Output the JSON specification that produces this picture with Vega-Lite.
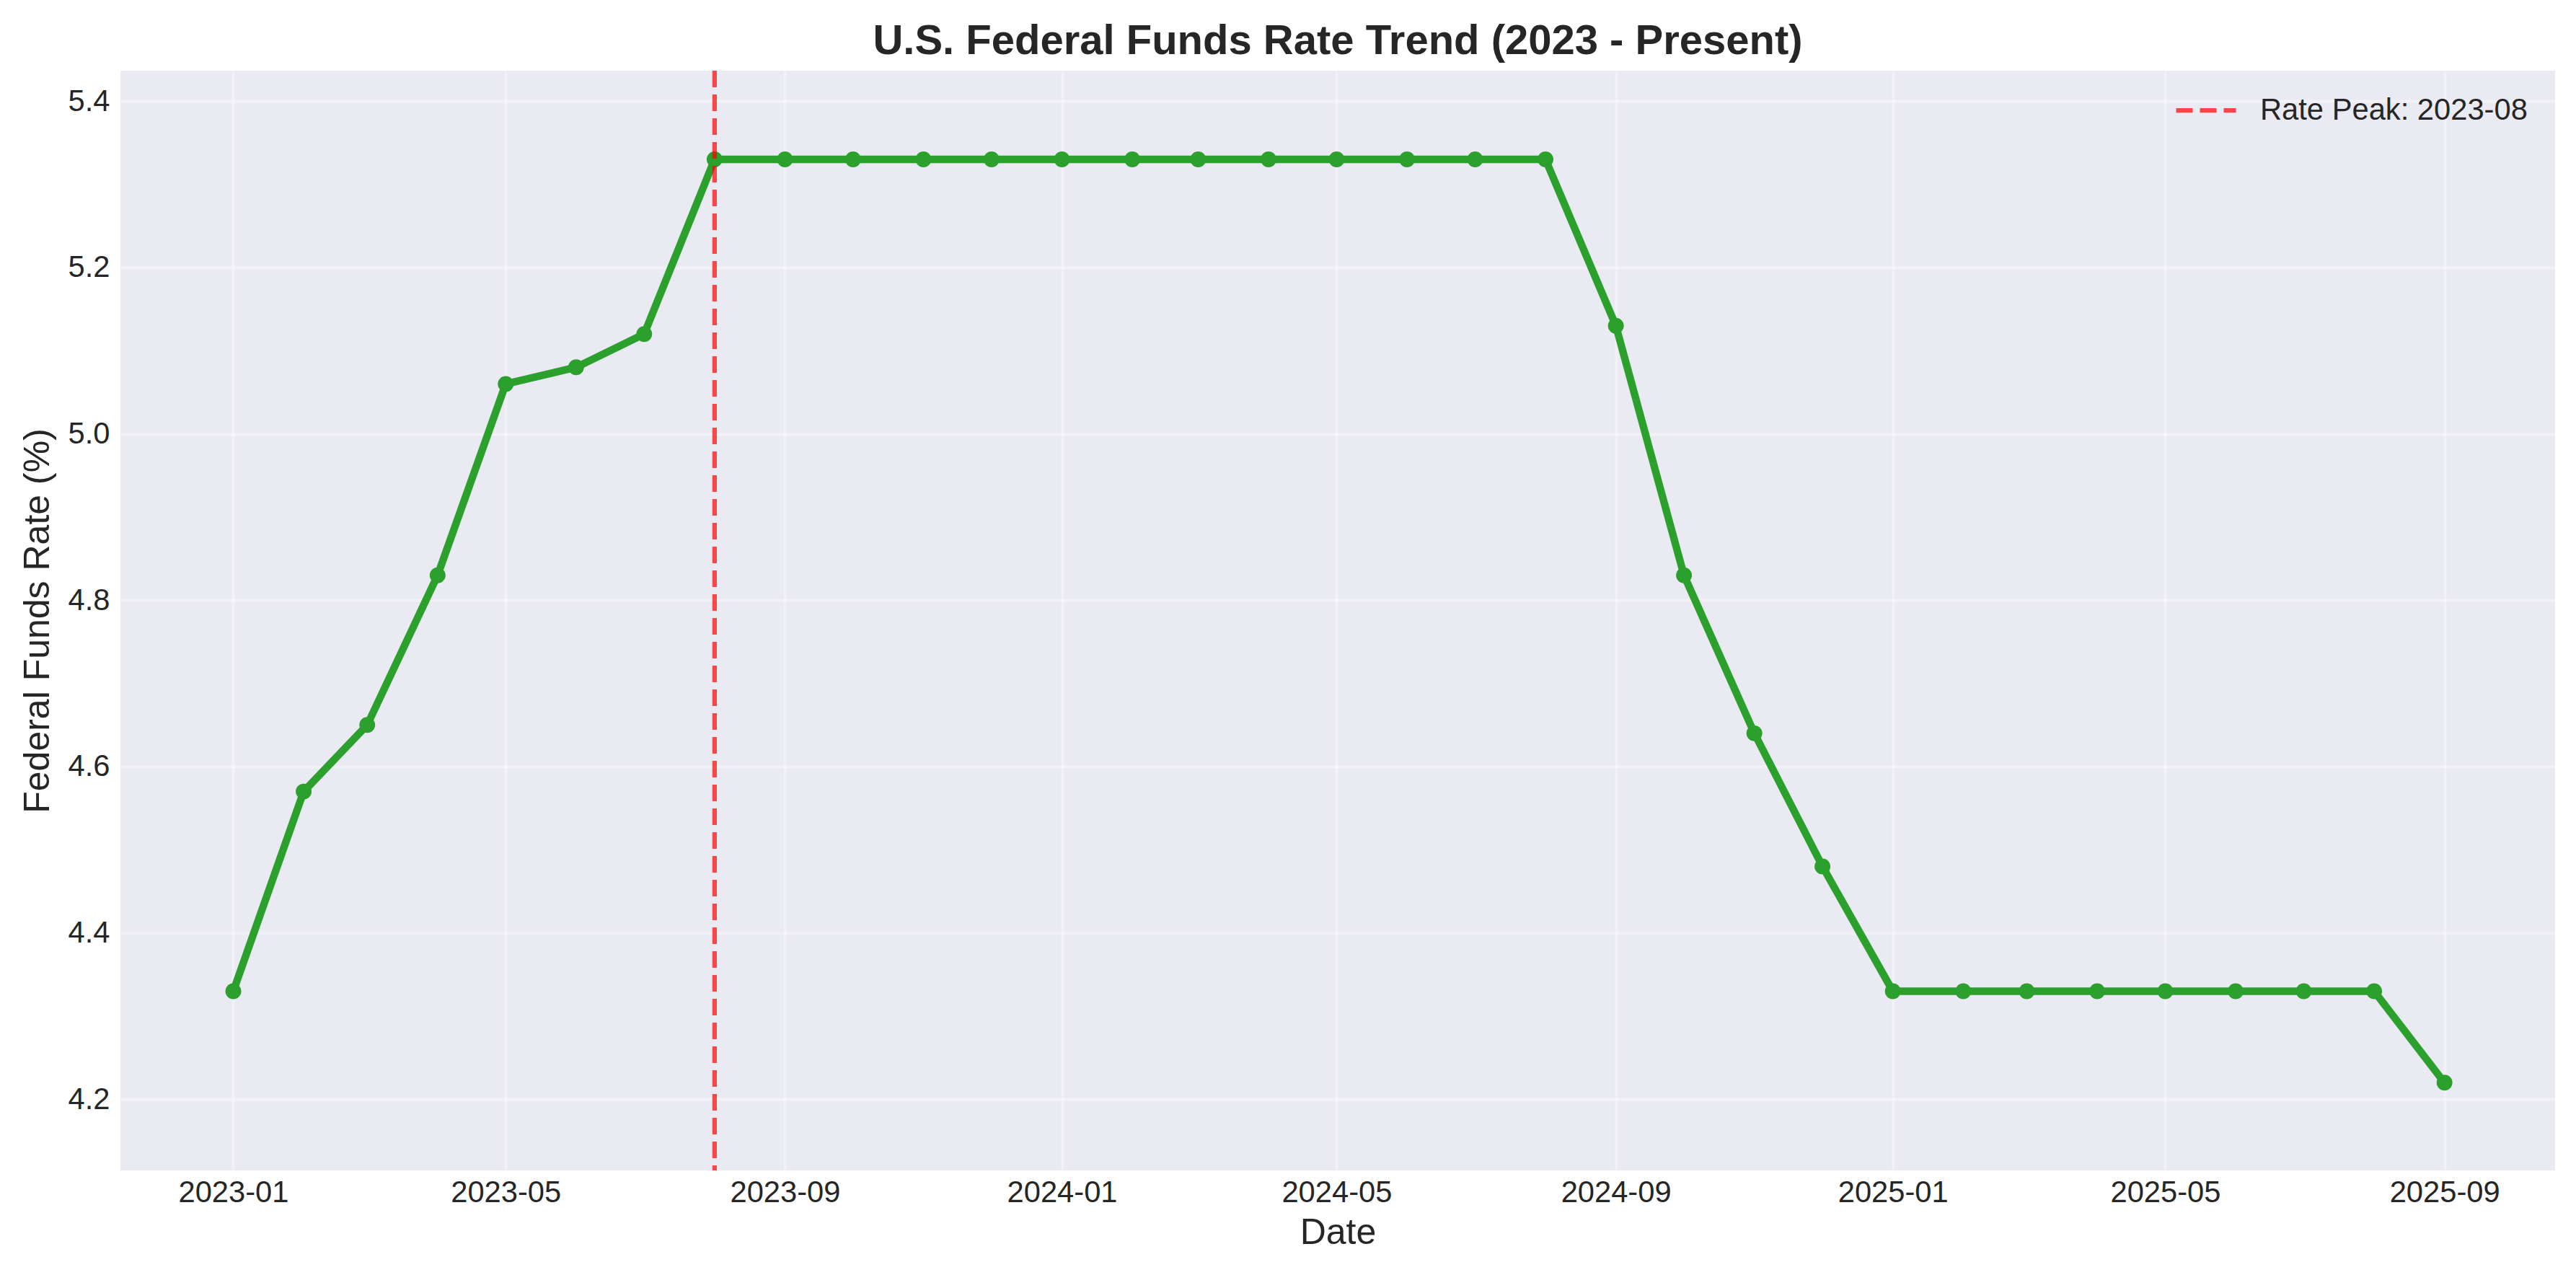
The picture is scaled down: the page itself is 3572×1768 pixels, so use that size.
{
  "$schema": "https://vega.github.io/schema/vega-lite/v6.json",
  "width": 3376,
  "height": 1525,
  "autosize": "none",
  "padding": {"left": 167, "top": 98, "right": 29, "bottom": 145},
  "background": "white",
  "title": {
    "text": "U.S. Federal Funds Rate Trend (2023 - Present)",
    "font": "Liberation Sans",
    "fontSize": 58,
    "fontWeight": "bold",
    "color": "#262626",
    "anchor": "middle",
    "baseline": "bottom",
    "offset": -50
  },
  "config": {
    "view": {"fill": "#EAEAF2", "stroke": null},
    "axis": {
      "domain": false,
      "ticks": false,
      "grid": true,
      "gridColor": "#FFFFFF",
      "gridOpacity": 0.35,
      "gridWidth": 4,
      "labelFont": "Liberation Sans",
      "labelFontSize": 41.7,
      "labelColor": "#262626",
      "titleFont": "Liberation Sans",
      "titleFontSize": 50,
      "titleFontWeight": "normal",
      "titleColor": "#262626"
    }
  },
  "data": {
    "values": [
      {"date": "2023-01-01", "rate": 4.33},
      {"date": "2023-02-01", "rate": 4.57},
      {"date": "2023-03-01", "rate": 4.65},
      {"date": "2023-04-01", "rate": 4.83},
      {"date": "2023-05-01", "rate": 5.06},
      {"date": "2023-06-01", "rate": 5.08},
      {"date": "2023-07-01", "rate": 5.12},
      {"date": "2023-08-01", "rate": 5.33},
      {"date": "2023-09-01", "rate": 5.33},
      {"date": "2023-10-01", "rate": 5.33},
      {"date": "2023-11-01", "rate": 5.33},
      {"date": "2023-12-01", "rate": 5.33},
      {"date": "2024-01-01", "rate": 5.33},
      {"date": "2024-02-01", "rate": 5.33},
      {"date": "2024-03-01", "rate": 5.33},
      {"date": "2024-04-01", "rate": 5.33},
      {"date": "2024-05-01", "rate": 5.33},
      {"date": "2024-06-01", "rate": 5.33},
      {"date": "2024-07-01", "rate": 5.33},
      {"date": "2024-08-01", "rate": 5.33},
      {"date": "2024-09-01", "rate": 5.13},
      {"date": "2024-10-01", "rate": 4.83},
      {"date": "2024-11-01", "rate": 4.64},
      {"date": "2024-12-01", "rate": 4.48},
      {"date": "2025-01-01", "rate": 4.33},
      {"date": "2025-02-01", "rate": 4.33},
      {"date": "2025-03-01", "rate": 4.33},
      {"date": "2025-04-01", "rate": 4.33},
      {"date": "2025-05-01", "rate": 4.33},
      {"date": "2025-06-01", "rate": 4.33},
      {"date": "2025-07-01", "rate": 4.33},
      {"date": "2025-08-01", "rate": 4.33},
      {"date": "2025-09-01", "rate": 4.22}
    ]
  },
  "encoding": {
    "x": {
      "field": "date",
      "type": "temporal",
      "title": "Date",
      "scale": {
        "type": "utc",
        "domain": [
          {"year": 2022, "month": 11, "date": 12, "hours": 7, "utc": true},
          {"year": 2025, "month": 10, "date": 19, "hours": 17, "utc": true}
        ]
      },
      "axis": {
        "format": "%Y-%m",
        "labelPadding": 10,
        "titlePadding": 10,
        "values": [
          {"year": 2023, "month": 1, "date": 1, "utc": true},
          {"year": 2023, "month": 5, "date": 1, "utc": true},
          {"year": 2023, "month": 9, "date": 1, "utc": true},
          {"year": 2024, "month": 1, "date": 1, "utc": true},
          {"year": 2024, "month": 5, "date": 1, "utc": true},
          {"year": 2024, "month": 9, "date": 1, "utc": true},
          {"year": 2025, "month": 1, "date": 1, "utc": true},
          {"year": 2025, "month": 5, "date": 1, "utc": true},
          {"year": 2025, "month": 9, "date": 1, "utc": true}
        ]
      }
    }
  },
  "layer": [
    {
      "mark": {"type": "line", "color": "#2CA02C", "strokeWidth": 10.4},
      "encoding": {
        "y": {
          "field": "rate",
          "type": "quantitative",
          "title": "Federal Funds Rate (%)",
          "scale": {"domain": [4.1145, 5.4366], "zero": false, "nice": false},
          "axis": {
            "values": [4.2, 4.4, 4.6, 4.8, 5.0, 5.2, 5.4],
            "format": ".1f",
            "labelPadding": 15,
            "titlePadding": 17
          }
        }
      }
    },
    {
      "mark": {"type": "point", "shape": "circle", "filled": true, "color": "#2CA02C", "size": 480, "opacity": 1},
      "encoding": {
        "y": {"field": "rate", "type": "quantitative"}
      }
    },
    {
      "data": {"values": [{"date": "2023-08-01", "label": "Rate Peak: 2023-08"}]},
      "mark": {"type": "rule", "strokeWidth": 6.25, "strokeDash": [23, 10], "opacity": 0.7},
      "encoding": {
        "color": {
          "field": "label",
          "type": "nominal",
          "scale": {"range": ["#FF0000"]},
          "legend": {
            "title": null,
            "orient": "none",
            "legendX": 2847,
            "legendY": 10,
            "padding": 0,
            "symbolType": "stroke",
            "symbolSize": 6889,
            "symbolStrokeWidth": 6.25,
            "symbolDash": [23, 10],
            "symbolOpacity": 0.7,
            "labelOffset": 30,
            "labelFont": "Liberation Sans",
            "labelFontSize": 41.7,
            "labelColor": "#262626",
            "labelLimit": 1000
          }
        }
      }
    }
  ]
}
